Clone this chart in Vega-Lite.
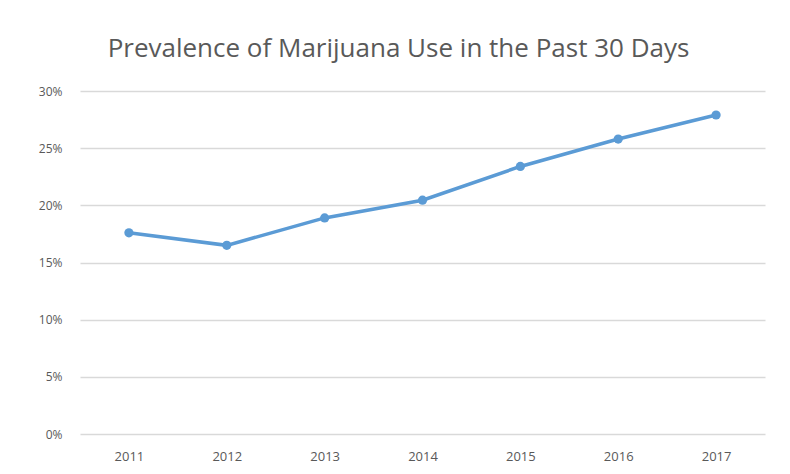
{
  "$schema": "https://vega.github.io/schema/vega-lite/v6.json",
  "width": 685,
  "height": 343,
  "autosize": {"type": "none"},
  "padding": {"left": 80, "top": 91, "right": 25, "bottom": 40},
  "background": "white",
  "title": {
    "text": "Prevalence of Marijuana Use in the Past 30 Days",
    "font": "Open Sans",
    "fontSize": 26,
    "fontWeight": "normal",
    "color": "#595959",
    "anchor": "middle",
    "offset": 23,
    "dx": -24
  },
  "data": {
    "values": [
      {"year": "2011", "rate": 0.176},
      {"year": "2012", "rate": 0.165},
      {"year": "2013", "rate": 0.189},
      {"year": "2014", "rate": 0.2045},
      {"year": "2015", "rate": 0.234},
      {"year": "2016", "rate": 0.258},
      {"year": "2017", "rate": 0.279}
    ]
  },
  "mark": {"type": "line", "color": "#5B9BD5", "strokeWidth": 3.5, "point": {"filled": true, "size": 85, "color": "#5B9BD5"}},
  "encoding": {
    "x": {
      "field": "year", "type": "ordinal",
      "scale": {"type": "point", "padding": 0.5},
      "axis": {"title": null, "labelAngle": 0, "domain": false, "ticks": false, "labelPadding": 16, "labelFont": "Open Sans", "labelFontSize": 13, "labelColor": "#595959"}
    },
    "y": {
      "field": "rate", "type": "quantitative",
      "scale": {"domain": [0, 0.3]},
      "axis": {"title": null, "format": ".0%", "values": [0, 0.05, 0.1, 0.15, 0.2, 0.25, 0.3], "domain": false, "ticks": false, "labelPadding": 18, "labelFont": "Open Sans", "labelFontSize": 12, "labelColor": "#595959", "gridColor": "#d9d9d9", "gridWidth": 1.5}
    }
  },
  "config": {"view": {"stroke": null}}
}
